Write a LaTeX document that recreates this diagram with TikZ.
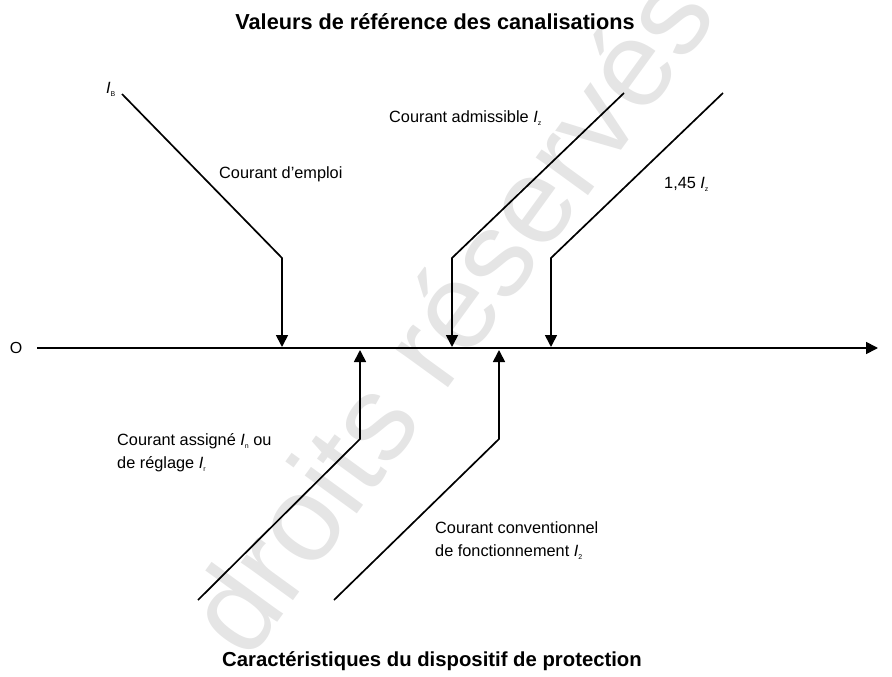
\documentclass[tikz,border=0pt]{standalone}
\usepackage{fontspec}
\setmainfont{Liberation Sans}
\usetikzlibrary{arrows.meta}
\newcommand{\mysub}[1]{\raisebox{-3pt}{\fontsize{7}{7}\selectfont #1}}
\begin{document}
\begin{tikzpicture}[x=1pt,y=-1pt,
  arr/.style={line width=1.7pt, -{Triangle[length=12pt,width=12pt]}},
  lbl/.style={font=\fontsize{16.3}{23}\selectfont, anchor=west, inner sep=0pt, align=left},
  ttl/.style={font=\bfseries\fontsize{21.7}{24}\selectfont, inner sep=0pt},
  ttlb/.style={font=\bfseries\fontsize{20.3}{24}\selectfont, inner sep=0pt}]
\useasboundingbox (0,0) rectangle (892,677);
% watermark
\node[rotate=54, text=black!10, font=\fontsize{122}{122}\selectfont, inner sep=0pt] (wm) at (448,313) {droits réservés};
% titles
\node[ttl] (top) at (435,22) {Valeurs de référence des canalisations};
\node[ttlb] (bot) at (432,661) {Caractéristiques du dispositif de protection};
% axis
\node[font=\fontsize{16}{16}\selectfont, inner sep=0pt] (O) at (16,348) {O};
\coordinate (ax0) at (37,348);
\coordinate (ax1) at (878,348);
\draw[arr] (ax0) -- (ax1);
% down arrows
\coordinate (a1s) at (122,94);  \coordinate (a1b) at (282,258); \coordinate (a1e) at (282,347);
\coordinate (a2s) at (624,93);  \coordinate (a2b) at (452,258); \coordinate (a2e) at (452,347);
\coordinate (a3s) at (723,93);  \coordinate (a3b) at (551,258); \coordinate (a3e) at (551,347);
\draw[arr] (a1s) -- (a1b) -- (a1e);
\draw[arr] (a2s) -- (a2b) -- (a2e);
\draw[arr] (a3s) -- (a3b) -- (a3e);
% up arrows
\coordinate (b1s) at (198,600); \coordinate (b1b) at (360,439); \coordinate (b1e) at (360,350);
\coordinate (b2s) at (334,600); \coordinate (b2b) at (499,439); \coordinate (b2e) at (499,350);
\draw[arr] (b1s) -- (b1b) -- (b1e);
\draw[arr] (b2s) -- (b2b) -- (b2e);
% labels
\node[lbl] (IB) at (106,89) {\textit{I}\mysub{B}};
\node[lbl] (emploi) at (219,174) {Courant d’emploi};
\node[lbl] (adm) at (389,118) {Courant admissible \textit{I}\mysub{z}};
\node[lbl] (k145) at (664,184) {1,45 \textit{I}\mysub{z}};
\node[lbl] (assigne) at (117,453) {Courant assigné \textit{I}\mysub{n} ou\\de réglage \textit{I}\mysub{r}};
\node[lbl] (conv) at (435,541) {Courant conventionnel\\de fonctionnement \textit{I}\mysub{2}};
\end{tikzpicture}
\end{document}
